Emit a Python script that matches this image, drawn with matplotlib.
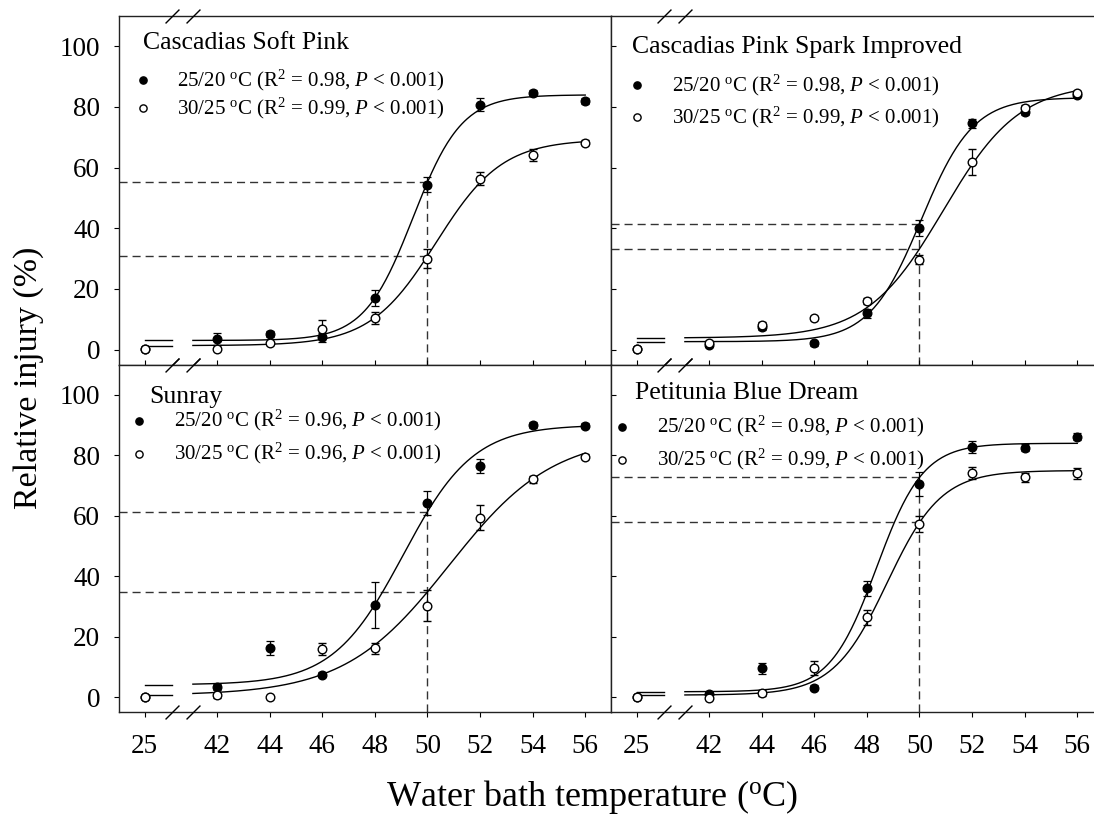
"""Relative injury vs water bath temperature, four cultivars, two growing temps."""

import numpy as np
import matplotlib

matplotlib.use("Agg")
import matplotlib.pyplot as plt
from matplotlib import transforms

plt.rcParams["font.family"] = ["Liberation Serif", "DejaVu Serif"]
plt.rcParams["mathtext.fontset"] = "custom"
plt.rcParams["mathtext.rm"] = "Liberation Serif"
plt.rcParams["mathtext.it"] = "Liberation Serif:italic"

# --- data ---
temps = [25, 42, 44, 46, 48, 50, 52, 54, 56]
titles = ["Cascadias Soft Pink", "Cascadias Pink Spark Improved", "Sunray", "Petitunia Blue Dream"]
r2_2520 = ["0.98", "0.98", "0.96", "0.98"]
r2_3025 = ["0.99", "0.99", "0.96", "0.99"]

soft_pink_2520 = [0.3, 3.6, 5.0, 4.0, 17.0, 54.4, 80.8, 84.5, 82.0]
soft_pink_2520_se = [0.5, 2.0, 1.0, 1.5, 2.5, 2.5, 2.0, 1.0, 1.0]
soft_pink_3025 = [0.2, 0.3, 2.0, 6.7, 10.4, 30.0, 56.4, 64.2, 68.2]
soft_pink_3025_se = [0.5, 0.5, 0.5, 2.9, 2.0, 3.2, 2.0, 2.0, 0.8]

pink_spark_2520 = [0.2, 1.5, 7.5, 2.1, 12.0, 40.1, 74.6, 78.3, 84.0]
pink_spark_2520_se = [0.5, 0.8, 1.0, 0.8, 1.5, 2.5, 1.5, 1.0, 0.8]
pink_spark_3025 = [0.3, 2.1, 8.2, 10.4, 15.9, 29.6, 61.7, 79.7, 84.5]
pink_spark_3025_se = [0.5, 0.8, 1.0, 0.8, 1.0, 1.5, 4.3, 1.0, 0.8]

sunray_2520 = [0.2, 3.3, 16.2, 7.5, 30.5, 64.2, 76.5, 90.0, 89.8]
sunray_2520_se = [0.3, 1.0, 2.4, 0.8, 7.5, 3.9, 2.3, 1.0, 0.8]
sunray_3025 = [0.2, 0.6, 0.0, 15.8, 16.2, 30.3, 59.4, 72.1, 79.6]
sunray_3025_se = [0.3, 0.8, 0.3, 2.0, 1.8, 5.2, 4.1, 1.2, 0.8]

blue_dream_2520 = [0.2, 0.9, 9.5, 3.1, 36.0, 70.5, 82.7, 82.6, 86.2]
blue_dream_2520_se = [0.3, 0.8, 1.8, 0.8, 2.4, 3.9, 2.0, 1.2, 1.2]
blue_dream_3025 = [0.2, -0.2, 1.4, 9.7, 26.4, 57.3, 74.3, 72.8, 74.1]
blue_dream_3025_se = [0.3, 0.5, 1.0, 2.4, 2.5, 2.6, 2.0, 1.5, 1.8]

# sigmoid fits y0 + a / (1 + exp(-(x - x0) / b)), as estimated from the curves
fit_2520 = [(3.0, 81.0, 49.45, 0.926), (2.6, 80.5, 50.07, 0.985),
            (4.1, 86.0, 49.08, 1.337), (1.8, 82.2, 48.37, 0.888)]
fit_3025 = [(1.3, 68.0, 50.33, 1.257), (3.8, 84.0, 50.90, 1.451),
            (0.6, 86.0, 50.82, 1.982), (0.7, 74.3, 48.77, 1.028)]

# injury at 50 C (dashed reference lines)
level_50_2520 = [55.2, 41.5, 61.3, 72.7]
level_50_3025 = [30.8, 33.2, 34.8, 57.8]

series_2520 = [(soft_pink_2520, soft_pink_2520_se), (pink_spark_2520, pink_spark_2520_se),
               (sunray_2520, sunray_2520_se), (blue_dream_2520, blue_dream_2520_se)]
series_3025 = [(soft_pink_3025, soft_pink_3025_se), (pink_spark_3025, pink_spark_3025_se),
               (sunray_3025, sunray_3025_se), (blue_dream_3025, blue_dream_3025_se)]

# --- broken x axis: 25 sits just left of the break ---
X25 = 39.25
BREAKS = (40.28, 41.08)
XLIM = (38.27, 56.98)


def xpos(t):
    return X25 if t == 25 else t


def sigmoid(x, y0, a, x0, b):
    return y0 + a / (1.0 + np.exp(-(np.asarray(x, dtype=float) - x0) / b))


W, H = 1094, 818
fig = plt.figure(figsize=(W / 100, H / 100), dpi=100)


def axes_at(left, top, width, height):
    return fig.add_axes([left / W, 1 - (top + height) / H, width / W, height / H])


axes = [
    axes_at(119, 16, 492, 348.7),
    axes_at(611, 16, 492, 348.7),
    axes_at(119, 364.7, 492, 347.6),
    axes_at(611, 364.7, 492, 347.6),
]

# legend layout per panel (axes fraction): title x/y, marker x, text x, row ys
legend_pos = [
    (0.048, 0.923, 0.048, 0.118, 0.816, 0.735),
    (0.042, 0.912, 0.052, 0.125, 0.802, 0.709),
    (0.062, 0.908, 0.041, 0.112, 0.839, 0.744),
    (0.048, 0.919, 0.022, 0.093, 0.822, 0.727),
]

xs = [xpos(t) for t in temps]
dash = (0, (5.8, 3.6))

for i, ax in enumerate(axes):
    ax.set_xlim(*XLIM)
    ax.set_ylim(-5, 110)
    for sp in ax.spines.values():
        sp.set_linewidth(1.0)
        sp.set_color("#222222")

    # dashed guides at 50 C
    hi = max(level_50_2520[i], level_50_3025[i])
    for lv in (level_50_2520[i], level_50_3025[i]):
        ax.plot([XLIM[0], 50], [lv, lv], color="#333333", lw=1.0, ls=dash, zorder=1)
    ax.plot([50, 50], [-5, hi], color="#333333", lw=1.0, ls=dash, zorder=1)

    # fitted curves, broken at the axis break
    for p in (fit_2520[i], fit_3025[i]):
        y25 = float(sigmoid(25, *p))
        ax.plot([X25, BREAKS[0]], [y25, y25], color="black", lw=1.0, zorder=2)
        xx = np.linspace(BREAKS[1], 56, 300)
        ax.plot(xx, sigmoid(xx, *p), color="black", lw=1.0, zorder=2)

    # points with SE bars
    (y1, e1), (y2, e2) = series_2520[i], series_3025[i]
    ax.errorbar(xs, y1, yerr=e1, fmt="o", ms=6.2, mfc="black", mec="black",
                ecolor="black", elinewidth=0.9, capsize=3.2, capthick=0.9, zorder=3)
    ax.errorbar(xs, y2, yerr=e2, fmt="o", ms=6.2, mfc="white", mec="black", mew=1.0,
                ecolor="black", elinewidth=0.9, capsize=3.2, capthick=0.9, zorder=4)

    # break marks on top and bottom spines
    blend = transforms.blended_transform_factory(ax.transData, ax.transAxes)
    for yy in (0, 1):
        ax.plot(BREAKS, [yy, yy], transform=blend, marker=[(-1, -1), (1, 1)],
                ms=10, ls="none", mec="black", mew=1.0, clip_on=False, zorder=5)

    # in-panel legend
    tx, ty, mx, lx, r1, r2 = legend_pos[i]
    ax.text(tx, ty, titles[i], transform=ax.transAxes, fontsize=18.5, va="center", ha="left")
    ax.plot([mx], [r1], "o", ms=5.2, color="black", transform=ax.transAxes)
    ax.plot([mx], [r2], "o", ms=5.2, mfc="white", mec="black", mew=1.0, transform=ax.transAxes)
    lab1 = r"25/20 $^{\mathrm{o}}$C (R$^{2}$ = " + r2_2520[i] + r", $\mathit{P}$ < 0.001)"
    lab2 = r"30/25 $^{\mathrm{o}}$C (R$^{2}$ = " + r2_3025[i] + r", $\mathit{P}$ < 0.001)"
    ax.text(lx, r1, lab1, transform=ax.transAxes, fontsize=15, va="center", ha="left")
    ax.text(lx, r2, lab2, transform=ax.transAxes, fontsize=15, va="center", ha="left")

    # ticks
    ax.set_xticks(xs)
    ax.set_yticks([0, 20, 40, 60, 80, 100])
    bottom_row = i >= 2
    left_col = i % 2 == 0
    ax.tick_params(axis="x", direction="out" if bottom_row else "in", length=3.6, width=0.8,
                   labelbottom=bottom_row, labelsize=19.5, pad=12)
    ax.tick_params(axis="y", direction="out" if left_col else "in", length=3.6, width=0.8,
                   labelleft=left_col, labelsize=19.5, pad=10)
    if bottom_row:
        ax.set_xticklabels([str(t) for t in temps])

fig.text(29 / W, 1 - 378 / H, "Relative injury (%)", rotation=90, ha="center", va="center",
         fontsize=24.5)
fig.text(592 / W, 1 - 797 / H, r"Water bath temperature ($^{\mathrm{o}}$C)", ha="center",
         va="center", fontsize=26)

fig.savefig("out.png", dpi=100)
